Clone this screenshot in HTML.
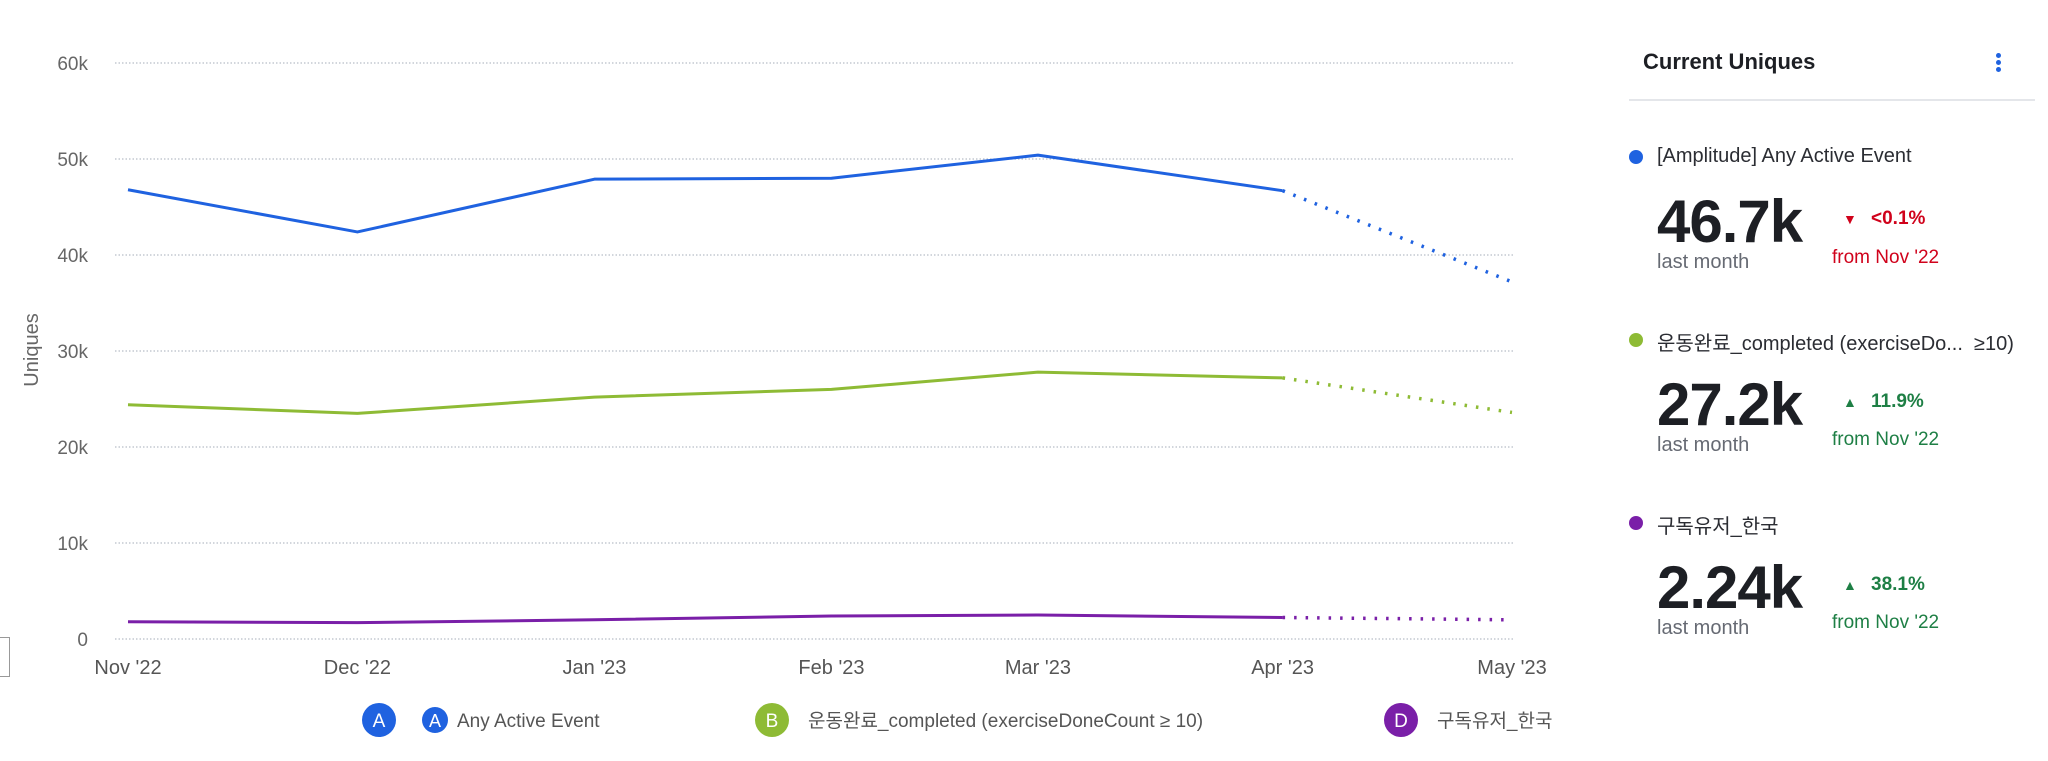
<!DOCTYPE html>
<html><head><meta charset="utf-8">
<style>
html,body{margin:0;padding:0;background:#fff;}
body{width:2048px;height:761px;position:relative;overflow:hidden;font-family:"Liberation Sans","Noto Sans CJK KR",sans-serif;}
.abs{position:absolute;white-space:nowrap;}
.big{font-size:60px;font-weight:bold;color:#1d1f24;letter-spacing:-1px;}
.lm{font-size:20px;color:#666a73;}
.chg{font-size:19px;font-weight:bold;}
.chg span{font-size:14px;display:inline-block;width:28px;}
.from{font-size:19px;}
.lbl{font-size:20px;color:#2b2d33;}
.dot{position:absolute;width:14px;height:14px;border-radius:50%;}
</style></head>
<body>
<div class="abs" style="left:-2px;top:637px;width:10px;height:38px;border:1px solid #999;"></div>
<svg id="chart" width="1560" height="761" style="position:absolute;left:0;top:0;font-family:'Liberation Sans','Noto Sans CJK KR',sans-serif;"></svg>

<div class="abs" style="left:1643px;top:49px;font-size:22px;font-weight:bold;color:#1d1f24;">Current Uniques</div>
<div class="abs" style="left:1996px;top:53px;width:6px;">
<div style="width:5px;height:5px;border-radius:50%;background:#1f62e0;margin-bottom:2px"></div>
<div style="width:5px;height:5px;border-radius:50%;background:#1f62e0;margin-bottom:2px"></div>
<div style="width:5px;height:5px;border-radius:50%;background:#1f62e0"></div></div>
<div class="abs" style="left:1629px;top:99px;width:406px;height:2px;background:#e4e6ea;"></div>

<div>
<div class="dot" style="left:1629px;top:150px;background:#1f62e0"></div>
<div class="abs lbl" style="left:1657px;top:145px;">[Amplitude] Any Active Event</div>
<div class="abs big" style="left:1657px;top:187px;">46.7k</div>
<div class="abs lm" style="left:1657px;top:251px;">last month</div>
<div class="abs chg" style="left:1843px;top:208px;color:#d0021b;"><span>▼</span>&lt;0.1%</div>
<div class="abs from" style="left:1832px;top:247px;color:#d0021b;">from Nov '22</div>
</div>
<div>
<div class="dot" style="left:1629px;top:333px;background:#8ebb35"></div>
<div class="abs lbl" style="left:1657px;top:327px;">운동완료_completed (exerciseDo...&nbsp; ≥10)</div>
<div class="abs big" style="left:1657px;top:370px;">27.2k</div>
<div class="abs lm" style="left:1657px;top:434px;">last month</div>
<div class="abs chg" style="left:1843px;top:391px;color:#1e7f45;"><span>▲</span>11.9%</div>
<div class="abs from" style="left:1832px;top:429px;color:#1e7f45;">from Nov '22</div>
</div>
<div>
<div class="dot" style="left:1629px;top:516px;background:#7a1fa8"></div>
<div class="abs lbl" style="left:1657px;top:510px;">구독유저_한국</div>
<div class="abs big" style="left:1657px;top:553px;">2.24k</div>
<div class="abs lm" style="left:1657px;top:617px;">last month</div>
<div class="abs chg" style="left:1843px;top:574px;color:#1e7f45;"><span>▲</span>38.1%</div>
<div class="abs from" style="left:1832px;top:612px;color:#1e7f45;">from Nov '22</div>
</div>

<script>
const months = ["Nov '22","Dec '22","Jan '23","Feb '23","Mar '23","Apr '23","May '23"];
const dayOffsets = [0,30,61,92,119,151,181];
const yTicks = [0,10000,20000,30000,40000,50000,60000];
const yTickLabels = ["0","10k","20k","30k","40k","50k","60k"];
const seriesA = [46800,42400,47900,48000,50400,46700,37200];
const seriesB = [24400,23500,25200,26000,27800,27200,23600];
const seriesD = [1800,1700,2000,2400,2500,2240,2000];
const seriesColors = ["#1f62e0","#8ebb35","#7a1fa8"];
const seriesNames = ["series-a-line","series-b-line","series-d-line"];

const svg = document.getElementById('chart');
const NS = "http://www.w3.org/2000/svg";
const x0=128,x1=1512,yTop=63,yBot=639;
const xs = d => x0 + (x1-x0)*d/181;
const ys = v => yBot - (yBot-yTop)*v/60000;
function mk(tag, attrs){const e=document.createElementNS(NS,tag);for(const k in attrs)e.setAttribute(k,attrs[k]);svg.appendChild(e);return e;}

yTicks.forEach((t,i)=>{
  const g=mk('line',{x1:115,x2:1515,y1:ys(t),y2:ys(t),stroke:'#b8bec8','stroke-width':1.3,'stroke-dasharray':'1.5 2'});
  
  
  const tx=mk('text',{x:88,y:ys(t)+7,'text-anchor':'end','font-size':19,fill:'#666'});
  tx.textContent=yTickLabels[i];
  
  
});
months.forEach((m,i)=>{
  const tx=mk('text',{x:xs(dayOffsets[i]),y:674,'text-anchor':'middle','font-size':20,fill:'#555'});
  tx.textContent=m;
  
  
});
const yt=mk('text',{x:0,y:0,transform:'translate(38,350) rotate(-90)','text-anchor':'middle','font-size':20,fill:'#666'});
yt.textContent='Uniques';



[seriesA,seriesB,seriesD].forEach((s,si)=>{
  const solid=s.slice(0,6).map((v,i)=>xs(dayOffsets[i])+','+ys(v)).join(' ');
  const p=mk('polyline',{points:solid,fill:'none',stroke:seriesColors[si],'stroke-width':3,'stroke-linejoin':'round'});
  
  
  const d=mk('line',{x1:xs(dayOffsets[5]),y1:ys(s[5]),x2:xs(dayOffsets[6]),y2:ys(s[6]),stroke:seriesColors[si],'stroke-width':3.5,'stroke-dasharray':'2.5 9'});
  
  
});

const legend=[
  {cx:379,letter:'A',color:'#1f62e0',tx:457,label:'Any Active Event',icon:true},
  {cx:772,letter:'B',color:'#8ebb35',tx:808,label:'운동완료_completed (exerciseDoneCount ≥ 10)'},
  {cx:1401,letter:'D',color:'#7a1fa8',tx:1437,label:'구독유저_한국'}
];
legend.forEach(l=>{
  const c=mk('circle',{cx:l.cx,cy:720,r:17,fill:l.color});
  
  
  const t=mk('text',{x:l.cx,y:727,'text-anchor':'middle','font-size':19,fill:'#fff'});
  t.textContent=l.letter;
  
  
  if(l.icon){
    const ic=mk('circle',{cx:435,cy:720,r:13,fill:'#1f62e0'});
    
    
    const it=mk('text',{x:435,y:727,'text-anchor':'middle','font-size':18,fill:'#fff'});
    it.textContent='A';
    
    
  }
  const lt=mk('text',{x:l.tx,y:727,'font-size':19,fill:'#555'});
  lt.textContent=l.label;
  
  
});
</script>
</body></html>
